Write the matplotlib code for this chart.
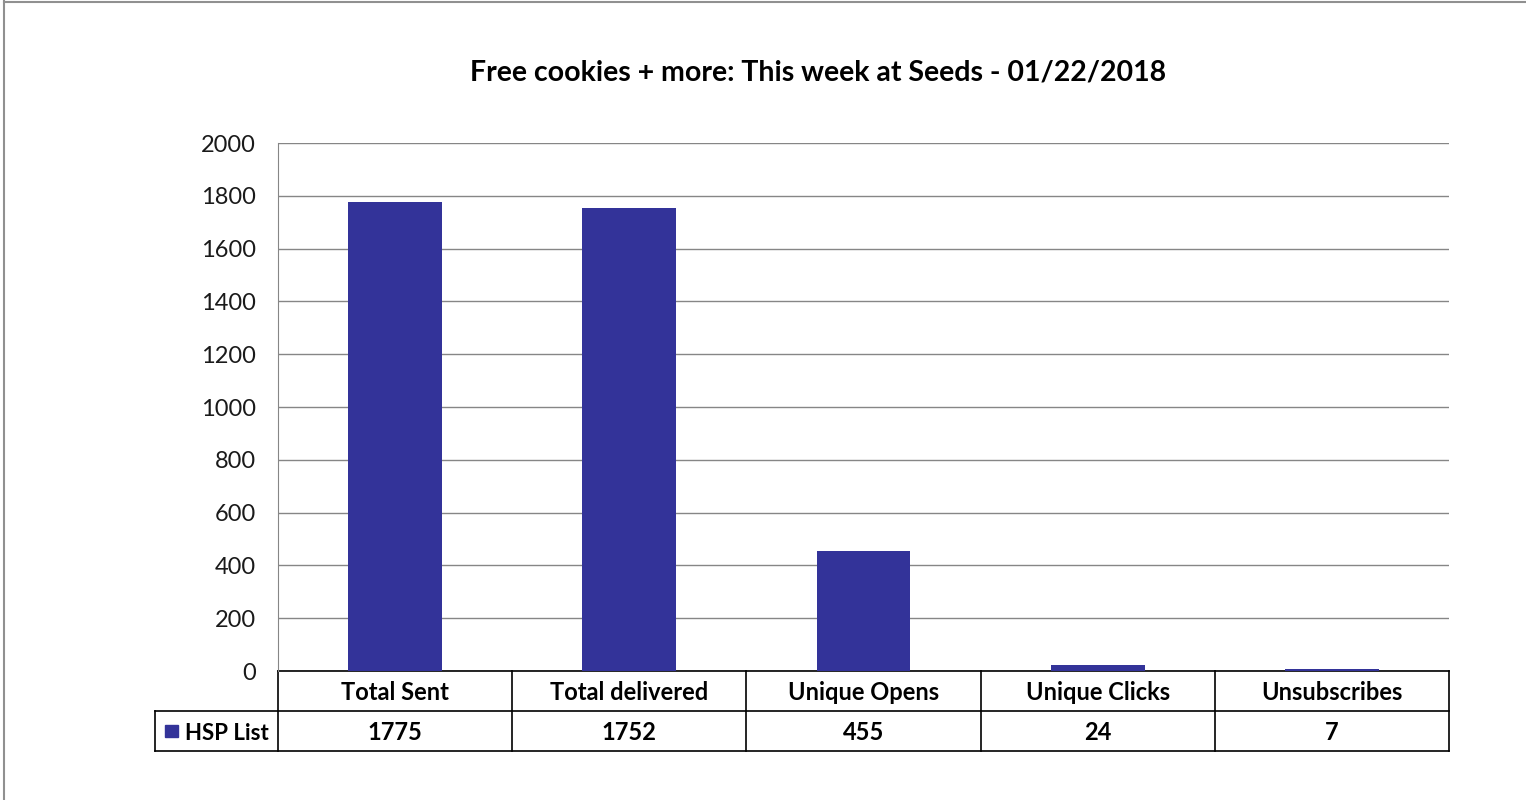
import matplotlib.pyplot as plt
from matplotlib.patches import Rectangle
from matplotlib.lines import Line2D
import matplotlib.transforms as mtransforms

plt.rcParams['font.family'] = ['Lato', 'DejaVu Sans']

title = "Free cookies + more: This week at Seeds - 01/22/2018"
categories = ["Total Sent", "Total delivered", "Unique Opens", "Unique Clicks", "Unsubscribes"]
series_name = "HSP List"
values = [1775, 1752, 455, 24, 7]
y_ticks = [0, 200, 400, 600, 800, 1000, 1200, 1400, 1600, 1800, 2000]

bar_color = "#333399"
grid_color = "#868686"

fig = plt.figure(figsize=(15.26, 8.0), dpi=100)
ax = fig.add_axes([0.1822, 0.16125, 0.9495 - 0.1822, 0.66])

x = range(len(categories))
ax.bar(x, values, width=0.4, color=bar_color, zorder=3)
ax.set_xlim(-0.5, len(categories) - 0.5)
ax.set_ylim(0, 2000)
ax.set_yticks(y_ticks)
ax.set_yticklabels([str(t) for t in y_ticks], fontsize=17, color="#1a1a1a")
ax.tick_params(axis="y", length=0, pad=16)
ax.set_xticks([])
ax.grid(axis="y", color=grid_color, linewidth=1.0, zorder=0)
for side in ("top", "right", "bottom"):
    ax.spines[side].set_visible(False)
ax.spines["left"].set_color(grid_color)

# data table underneath the plot
row_h = 40 / 528
nudge = 2 / 528
trans = mtransforms.blended_transform_factory(ax.transData, ax.transAxes)
n = len(categories)
kw = dict(transform=trans, clip_on=False, color="black", linewidth=1.2)
ax.add_line(Line2D([-0.5, n - 0.5], [0, 0], **kw))
ax.add_line(Line2D([-1.025, n - 0.5], [-row_h, -row_h], **kw))
ax.add_line(Line2D([-1.025, n - 0.5], [-2 * row_h, -2 * row_h], **kw))
ax.add_line(Line2D([-1.025, -1.025], [-row_h, -2 * row_h], **kw))
for i in range(n + 1):
    ax.add_line(Line2D([i - 0.5, i - 0.5], [0, -2 * row_h], **kw))
for i, (cat, v) in enumerate(zip(categories, values)):
    ax.text(i, -row_h / 2 - nudge, cat, transform=trans, ha="center", va="center",
            fontsize=17, fontweight="bold")
    ax.text(i, -1.5 * row_h - nudge, str(v), transform=trans, ha="center", va="center",
            fontsize=17, fontweight="bold")
ax.add_patch(Rectangle((-0.982, -1.5 * row_h - 0.012), 0.054, 0.024,
                       transform=trans, clip_on=False, color=bar_color))
ax.text(-0.896, -1.5 * row_h - nudge, series_name, transform=trans, ha="left", va="center",
        fontsize=16, fontweight="bold")

fig.text(818 / 1526, 1 - 72 / 800, title, ha="center", va="center",
         fontsize=20.5, fontweight="bold")

# outer chart frame
fig.add_artist(Line2D([4 / 1526, 4 / 1526], [0, 1 - 1 / 800], color="#909090", linewidth=1.5))
fig.add_artist(Line2D([4 / 1526, 1], [1 - 1.5 / 800, 1 - 1.5 / 800], color="#909090", linewidth=1.5))

fig.savefig("out.png", dpi=100)
